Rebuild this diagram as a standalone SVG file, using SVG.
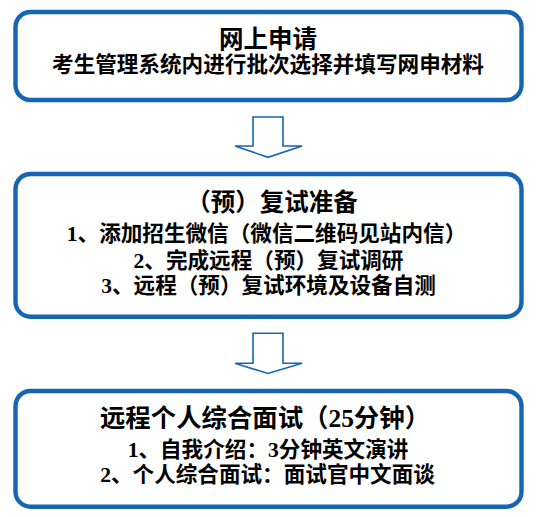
<svg xmlns="http://www.w3.org/2000/svg" width="537" height="517" viewBox="0 0 537 517">
<style>
.box{fill:#ffffff;stroke:#1565B3;stroke-width:4.4}
.arr{fill:#ffffff;stroke:#1565B3;stroke-width:1.6;stroke-linejoin:miter}
text{font-family:"Liberation Serif","Noto Sans CJK SC",serif;font-weight:700;fill:#000000;text-anchor:middle}
.t{font-size:24.5px}
.b{font-size:21.6px}
</style>
<rect width="537" height="517" fill="#ffffff"/>
<g id="connectors">
<polygon class="arr" points="253,117 283,117 283,146 302,146 268,157.3 235,146 253,146"/>
<polygon class="arr" points="253,333.3 283,333.3 283,363.3 302,363.3 268,373.5 235,363.3 253,363.3"/>
</g>
<g id="node1">
<rect class="box" x="15.5" y="12" width="506" height="88" rx="15"/>
<text class="t" x="268" y="47.8">网上申请</text>
<text class="b" x="268" y="72.2">考生管理系统内进行批次选择并填写网申材料</text>
</g>
<g id="node2">
<rect class="box" x="15.5" y="174" width="506" height="142.7" rx="15"/>
<text class="t" x="272" y="211">（预）复试准备</text>
<text class="b" x="266.5" y="240.7">1、添加招生微信（微信二维码见站内信）</text>
<text class="b" x="268.5" y="267.7">2、完成远程（预）复试调研</text>
<text class="b" x="268.5" y="293">3、远程（预）复试环境及设备自测</text>
</g>
<g id="node3">
<rect class="box" x="15.5" y="391" width="506" height="115.7" rx="15"/>
<text class="t" x="265" y="427" style="font-size:25.4px">远程个人综合面试（25分钟）</text>
<text class="b" x="268" y="456.7">1、自我介绍：3分钟英文演讲</text>
<text class="b" x="267.5" y="481.8">2、个人综合面试：面试官中文面谈</text>
</g>
</svg>
